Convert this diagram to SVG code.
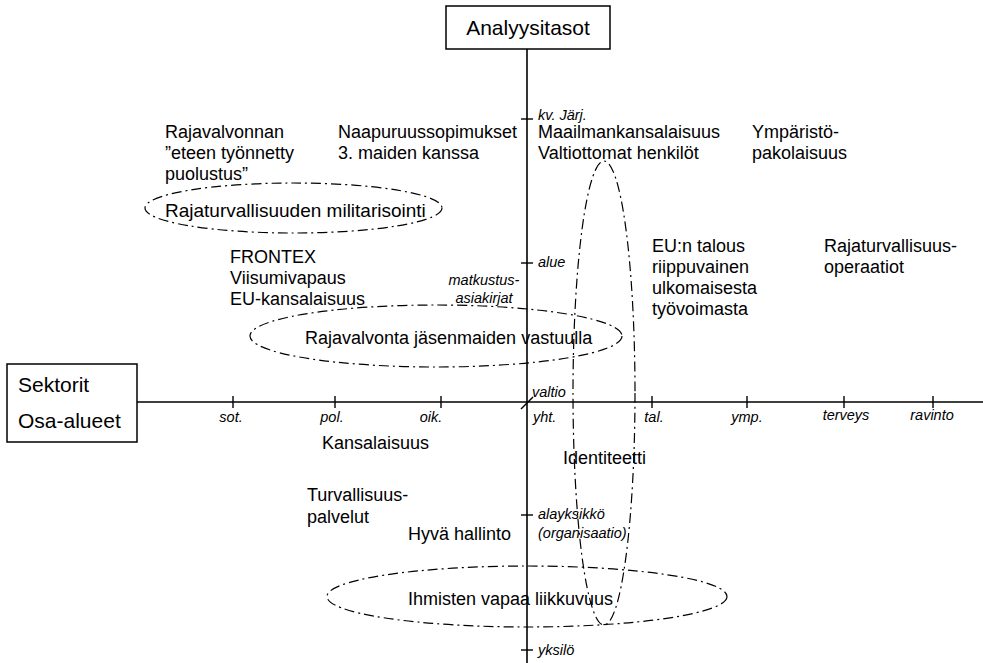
<svg xmlns="http://www.w3.org/2000/svg" width="983" height="663" viewBox="0 0 983 663">
  <style>
    text { font-family: "Liberation Sans", Arial, sans-serif; fill: #000; }
    .lbl { font-size: 18px; }
    .lg { font-size: 19px; }
    .ttl { font-size: 21px; }
    .ax { font-size: 14.5px; font-style: italic; }
    .mid { text-anchor: middle; }
    .axis { stroke: #000; stroke-width: 1.6; fill: none; }
    .tick { stroke: #000; stroke-width: 1.4; }
    .box { fill: #fff; stroke: #000; stroke-width: 1.5; }
    .ring { fill: none; stroke: #000; stroke-width: 1.2; stroke-dasharray: 10 4 2 4; }
  </style>
  <rect width="983" height="663" fill="#fff"/>

  <g id="connectors">
    <!-- axes -->
    <line class="axis" x1="527" y1="49" x2="527" y2="663"/>
    <line class="axis" x1="137" y1="402" x2="983" y2="402"/>
    <!-- ticks on the horizontal axis -->
    <line class="tick" x1="233" y1="396" x2="233" y2="408"/>
    <line class="tick" x1="335" y1="396" x2="335" y2="408"/>
    <line class="tick" x1="441" y1="396" x2="441" y2="408"/>
    <line class="tick" x1="652" y1="396" x2="652" y2="408"/>
    <line class="tick" x1="747" y1="396" x2="747" y2="408"/>
    <line class="tick" x1="844" y1="396" x2="844" y2="408"/>
    <line class="tick" x1="933" y1="396" x2="933" y2="408"/>
    <!-- ticks on the vertical axis -->
    <line class="tick" x1="521" y1="119" x2="533" y2="119"/>
    <line class="tick" x1="521" y1="263" x2="533" y2="263"/>
    <line class="tick" x1="521" y1="515" x2="533" y2="515"/>
    <line class="tick" x1="521" y1="650" x2="533" y2="650"/>
    <line class="tick" x1="521" y1="409" x2="533" y2="397"/>
  </g>

  <g id="box-analyysitasot">
    <rect class="box" x="446" y="6" width="164" height="43"/>
    <text class="ttl mid" x="528" y="35">Analyysitasot</text>
  </g>

  <g id="box-sektorit">
    <rect class="box" x="7" y="364" width="130" height="78"/>
    <text class="ttl" x="18" y="392">Sektorit</text>
    <text class="ttl" x="18" y="428">Osa-alueet</text>
  </g>

  <g id="axis-labels">
    <text class="ax mid" x="231" y="422">sot.</text>
    <text class="ax mid" x="332" y="422">pol.</text>
    <text class="ax mid" x="431" y="422">oik.</text>
    <text class="ax" x="533" y="422">yht.</text>
    <text class="ax mid" x="654" y="422">tal.</text>
    <text class="ax mid" x="747" y="422">ymp.</text>
    <text class="ax mid" x="846" y="420">terveys</text>
    <text class="ax mid" x="932" y="420">ravinto</text>
    <text class="ax" x="538" y="120">kv. Järj.</text>
    <text class="ax" x="538" y="267">alue</text>
    <text class="ax mid" x="484" y="285">matkustus-</text>
    <text class="ax mid" x="484" y="303">asiakirjat</text>
    <text class="ax" x="532" y="397">valtio</text>
    <text class="ax" x="538" y="519">alayksikkö</text>
    <text class="ax" x="538" y="538">(organisaatio)</text>
    <text class="ax" x="538" y="655">yksilö</text>
  </g>

  <g id="node-rajavalvonnan">
    <text class="lbl" x="165" y="138">Rajavalvonnan</text>
    <text class="lbl" x="165" y="159">”eteen työnnetty</text>
    <text class="lbl" x="165" y="180">puolustus”</text>
  </g>
  <g id="node-naapuruussopimukset">
    <text class="lbl" x="338" y="138">Naapuruussopimukset</text>
    <text class="lbl" x="338" y="159">3. maiden kanssa</text>
  </g>
  <g id="node-maailmankansalaisuus">
    <text class="lbl" x="538" y="138">Maailmankansalaisuus</text>
    <text class="lbl" x="538" y="159">Valtiottomat henkilöt</text>
  </g>
  <g id="node-ymparisto">
    <text class="lbl" x="752" y="138">Ympäristö-</text>
    <text class="lbl" x="752" y="159">pakolaisuus</text>
  </g>
  <g id="node-militarisointi">
    <ellipse class="ring" cx="293.5" cy="208" rx="148.5" ry="25"/>
    <text class="lg" x="165" y="217">Rajaturvallisuuden militarisointi</text>
  </g>
  <g id="node-frontex">
    <text class="lbl" x="230" y="263">FRONTEX</text>
    <text class="lbl" x="230" y="284">Viisumivapaus</text>
    <text class="lbl" x="230" y="305">EU-kansalaisuus</text>
  </g>
  <g id="node-eu-talous">
    <text class="lbl" x="652" y="252">EU:n talous</text>
    <text class="lbl" x="652" y="273">riippuvainen</text>
    <text class="lbl" x="652" y="294">ulkomaisesta</text>
    <text class="lbl" x="652" y="315">työvoimasta</text>
  </g>
  <g id="node-operaatiot">
    <text class="lbl" x="824" y="252">Rajaturvallisuus-</text>
    <text class="lbl" x="824" y="273">operaatiot</text>
  </g>
  <g id="node-jasenmaat">
    <ellipse class="ring" cx="436" cy="336" rx="186" ry="31"/>
    <text class="lbl" x="305" y="344">Rajavalvonta jäsenmaiden vastuulla</text>
  </g>
  <g id="node-kansalaisuus">
    <text class="lbl" x="322" y="449">Kansalaisuus</text>
  </g>
  <g id="node-identiteetti">
    <ellipse class="ring" cx="604" cy="393" rx="31" ry="232"/>
    <text class="lbl" x="563" y="464">Identiteetti</text>
  </g>
  <g id="node-turvallisuuspalvelut">
    <text class="lbl" x="307" y="501">Turvallisuus-</text>
    <text class="lbl" x="307" y="523">palvelut</text>
  </g>
  <g id="node-hyva-hallinto">
    <text class="lbl" x="408" y="540">Hyvä hallinto</text>
  </g>
  <g id="node-liikkuvuus">
    <ellipse class="ring" cx="527" cy="596.5" rx="200" ry="30.5"/>
    <text class="lbl" x="408" y="605">Ihmisten vapaa liikkuvuus</text>
  </g>
</svg>
